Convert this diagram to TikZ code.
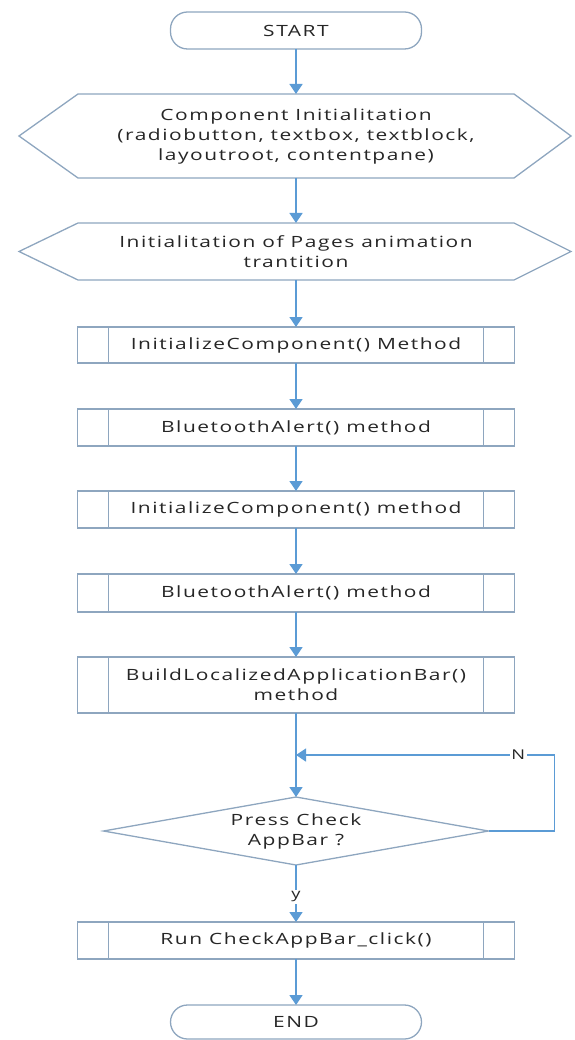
\documentclass[tikz,border=0pt]{standalone}
\usepackage{fontspec}
\setmainfont{Open Sans}[FakeStretch=1.35,LetterSpace=10]
\usepackage{tikz}
\usetikzlibrary{arrows.meta,positioning,shapes.geometric,calc}

\definecolor{flowblue}{HTML}{5B9BD5}
\definecolor{edgegray}{HTML}{8EA6BF}
\definecolor{inkgray}{HTML}{262626}

\begin{document}
\begin{tikzpicture}[
    every node/.style = {inner sep=0pt, outer sep=0pt, align=center, text=inkgray,
                         font=\fontsize{15.5pt}{20pt}\selectfont},
    outline/.style    = {draw=edgegray, line width=1.3pt},
    terminal/.style   = {outline, fill=white, minimum width=251pt, rounded corners=17pt},
    prep/.style       = {minimum width=436pt},
    sub/.style        = {outline, fill=white, minimum width=437pt},
    decision/.style   = {outline, fill=white, diamond, aspect=5.6,
                         minimum width=385pt, minimum height=68pt},
    flow/.style       = {draw=flowblue, line width=1.4pt, -{Triangle[width=13pt,length=10pt]}},
    tag/.style        = {fill=white, inner sep=1.5pt, font=\fontsize{13.5pt}{16pt}\selectfont}
  ]
    \useasboundingbox (0,0) rectangle (574pt,-1040pt);

    \node[terminal, minimum height=37pt] (start) at (296pt,-30.5pt) {START};
    \node[prep, below=45pt of start, minimum height=84pt] (hexa)
      {Component Initialitation\\(radiobutton, textbox, textblock,\\layoutroot, contentpane)};
    \node[prep, below=45pt of hexa, minimum height=57pt] (hexb)
      {Initialitation of Pages animation\\trantition};
    \node[sub, below=47pt of hexb, minimum height=36pt] (ica) {InitializeComponent() Method};
    \node[sub, below=46pt of ica, minimum height=37pt] (bta) {BluetoothAlert() method};
    \node[sub, below=45pt of bta, minimum height=37pt] (icb) {InitializeComponent() method};
    \node[sub, below=46pt of icb, minimum height=38pt] (btb) {BluetoothAlert() method};
    \node[sub, below=45pt of btb, minimum height=56pt] (build)
      {BuildLocalizedApplicationBar()\\method};
    \node[decision, below=84pt of build] (press) {Press Check\\AppBar ?};
    \node[sub, below=57pt of press, minimum height=37pt] (run) {Run CheckAppBar\_click()};
    \node[terminal, below=46pt of run, minimum height=34pt] (stop) {END};

    % hexagon outlines
    \foreach \n in {hexa,hexb}
      \draw[outline] (\n.north west) -- (\n.north east) -- ([xshift=57pt]\n.east)
        -- (\n.south east) -- (\n.south west) -- ([xshift=-59pt]\n.west) -- cycle;

    % inner bars of the process boxes
    \foreach \n in {ica,bta,icb,btb,build,run}
      \draw[outline] ([xshift=31pt]\n.north west) -- ([xshift=31pt]\n.south west)
        ([xshift=-31pt]\n.north east) -- ([xshift=-31pt]\n.south east);

    \foreach \a/\b in {start/hexa, hexa/hexb, hexb/ica, ica/bta, bta/icb,
                       icb/btb, btb/build, build/press, run/stop}
      \draw[flow] (\a) -- (\b);

    \draw[flow] (press) -- node[tag, pos=0.56] {y} (run);

    \coordinate (merge) at ($(build.south)!0.5!(press.north)$);
    \draw[flow] (press.east) -- ++(66pt,0) |- node[tag, pos=0.57] {N} (merge);
  \end{tikzpicture}
\end{document}
